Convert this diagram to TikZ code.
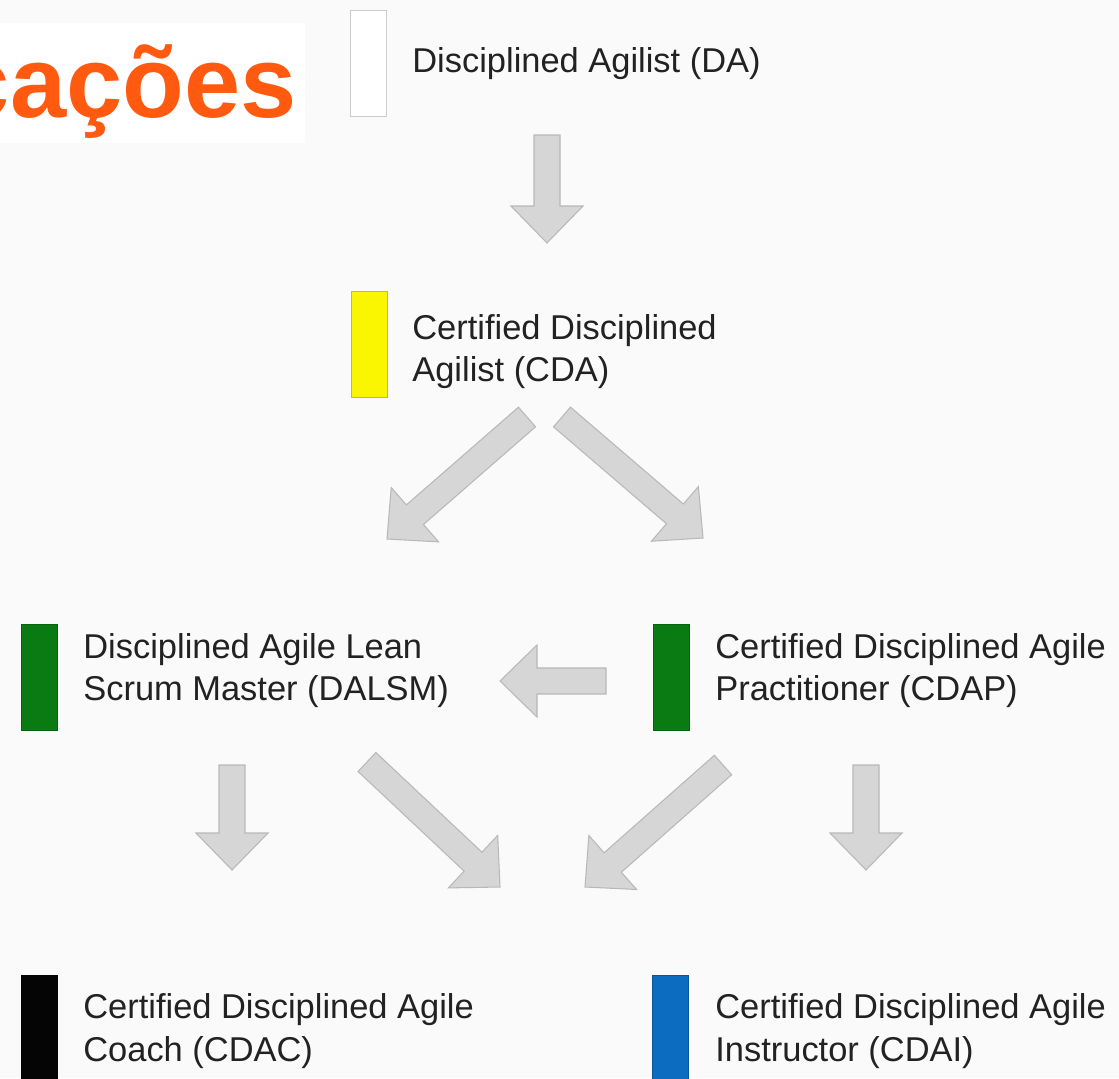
\documentclass[tikz,border=0pt]{standalone}
\usepackage{fontspec}
\setmainfont{Liberation Sans}
\usetikzlibrary{calc}

\definecolor{pagebg}{HTML}{FAFAFA}
\definecolor{titleorange}{HTML}{FF5A0F}
\definecolor{textgray}{HTML}{222222}
\definecolor{arrowfill}{HTML}{D6D6D6}
\definecolor{arrowedge}{HTML}{B8B8B8}
\definecolor{barYellow}{HTML}{FAF500}
\definecolor{barGreen}{HTML}{0A7A12}
\definecolor{barBlack}{HTML}{050505}
\definecolor{barBlue}{HTML}{0B6CC0}

\tikzset{
	bar/.style={rectangle, inner sep=0pt, minimum width=0.72cm, minimum height=2.12cm,
		fill=#1, draw=#1!80!black, line width=0.5pt},
	certtext/.style={anchor=west, inner sep=0pt, align=left, text=textgray,
		font=\fontsize{19.6}{24.3}\selectfont},
	headline/.style={anchor=base east, inner sep=0pt, text=titleorange,
		font=\fontsize{57.5}{60}\selectfont\bfseries},
	blockarrow/.style={fill=arrowfill, draw=arrowedge, line width=0.6pt, line join=miter}
}

\begin{document}
\begin{tikzpicture}[x=2cm, y=2cm]
		\useasboundingbox (0,0) rectangle (11.19,-10.78);
		\clip (0,0) rectangle (11.19,-10.78);
		\fill[pagebg] (0,0) rectangle (11.19,-10.78);

		% title, cut at the left edge
		\fill[white] (0,-0.23) rectangle (3.05,-1.43);
		\node[headline] (title) at (2.97,-1.17) {cações};

		% coloured bars
		\node[bar=white] (da) at (3.685,-0.635) {};
		\node[bar=barYellow] (cda) at (3.695,-3.445) {};
		\node[bar=barGreen] (dalsm) at (0.395,-6.77) {};
		\node[bar=barGreen] (cdap) at (6.71,-6.77) {};
		\node[bar=barBlack] (cdac) at (0.395,-10.28) {};
		\node[bar=barBlue] (cdai) at (6.705,-10.28) {};

		% texts
		\node[certtext] (da-text) at (4.12,-0.64) {Disciplined Agilist (DA)};
		\node[certtext] (cda-text) at (4.12,-3.515) {Certified Disciplined\\Agilist (CDA)};
		\node[certtext] (dalsm-text) at (0.83,-6.705) {Disciplined Agile Lean\\Scrum Master (DALSM)};
		\node[certtext] (cdap-text) at (7.15,-6.705) {Certified Disciplined Agile\\Practitioner (CDAP)};
		\node[certtext] (cdac-text) at (0.83,-10.31) {Certified Disciplined Agile\\Coach (CDAC)};
		\node[certtext] (cdai-text) at (7.15,-10.31) {Certified Disciplined Agile\\Instructor (CDAI)};

		% arrow ends
		\coordinate (da-out) at (5.47,-1.35);
		\coordinate (cda-in) at (5.47,-2.43);
		\coordinate (cda-left) at (5.27,-4.17);
		\coordinate (dalsm-in) at (3.87,-5.39);
		\coordinate (cda-right) at (5.62,-4.17);
		\coordinate (cdap-in) at (7.03,-5.38);
		\coordinate (cdap-out) at (6.06,-6.81);
		\coordinate (dalsm-side) at (5.00,-6.81);
		\coordinate (dalsm-down) at (2.32,-7.65);
		\coordinate (cdac-in) at (2.32,-8.70);
		\coordinate (dalsm-cross) at (3.67,-7.62);
		\coordinate (cdai-in) at (5.00,-8.87);
		\coordinate (cdap-cross) at (7.23,-7.65);
		\coordinate (cdac-side) at (5.85,-8.87);
		\coordinate (cdap-down) at (8.66,-7.65);
		\coordinate (cdai-top) at (8.66,-8.70);

		\foreach \s/\e in {da-out/cda-in, cda-left/dalsm-in, cda-right/cdap-in,
			cdap-out/dalsm-side, dalsm-down/cdac-in, dalsm-cross/cdai-in,
			cdap-cross/cdac-side, cdap-down/cdai-top}{
			\coordinate (head) at ($(\e)!0.74cm!(\s)$);
			\filldraw[blockarrow] ($(\s)!0.26cm!90:(\e)$) -- ($(head)!0.26cm!90:(\e)$)
				-- ($(head)!0.72cm!90:(\e)$) -- (\e) -- ($(head)!0.72cm!-90:(\e)$)
				-- ($(head)!0.26cm!-90:(\e)$) -- ($(\s)!0.26cm!-90:(\e)$) -- cycle;
		}
\end{tikzpicture}
\end{document}
